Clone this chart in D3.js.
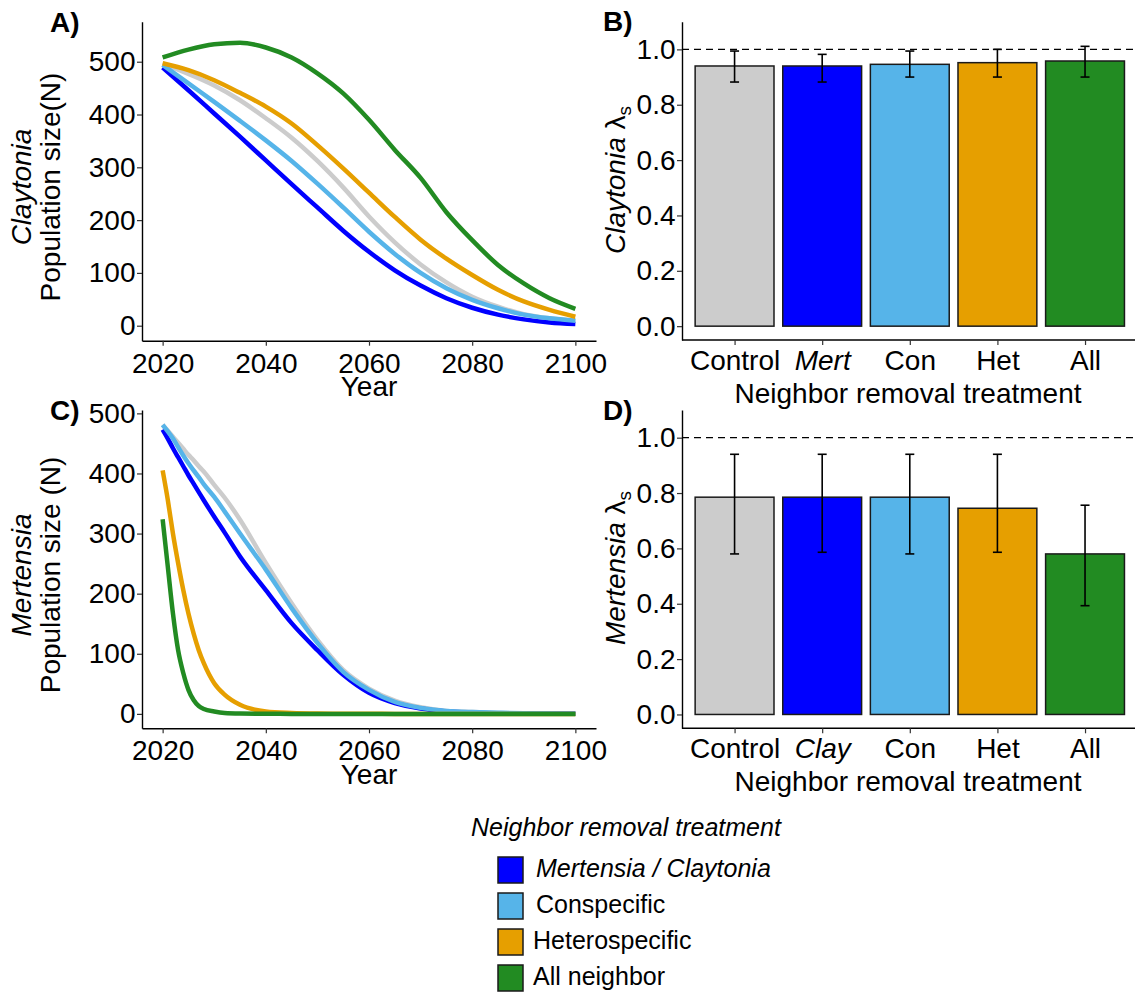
<!DOCTYPE html>
<html>
<head>
<meta charset="utf-8">
<script src="https://cdn.jsdelivr.net/npm/d3@7"></script>
<style>
  body { margin: 0; background: #fff; }
  svg text { font-family: "Liberation Sans", Arial, Helvetica, sans-serif; fill: #000; }
</style>
</head>
<body>
<svg id="fig" width="1135" height="994"></svg>
<script>
// ---- Treatments and colours ----
const treatments = ["Control", "Mert", "Con", "Het", "All"];
const treatmentColors = ["#CCCCCC", "#0000FF", "#56B4E9", "#E69F00", "#228B22"];

// ---- Claytonia projected population size (N) ----
const claytoniaYears = [2020, 2025, 2030, 2035, 2040, 2045, 2050, 2055, 2060, 2065, 2070, 2075, 2080, 2085, 2090, 2095, 2100];
const claytoniaControl = [497, 477, 455, 427, 393, 356, 312, 262, 207, 158, 116, 82, 55, 36, 22, 14, 9.5];
const claytoniaMert    = [489, 446, 402, 358, 313, 268, 224, 180, 140, 105, 76, 52, 34, 21, 12, 6, 3];
const claytoniaCon     = [494, 459, 424, 388, 351, 312, 269, 224, 178, 136, 100, 71, 49, 33, 21, 14, 9.5];
const claytoniaHet     = [497, 484, 465, 441, 415, 383, 342, 298, 252, 206, 163, 127, 96, 68, 46, 30, 17];
const claytoniaAll     = [508, 523, 533, 536, 527, 508, 478, 440, 390, 333, 280, 215, 162, 115, 80, 52, 32];

// ---- Mertensia projected population size (N) ----
const mertensiaYears = [2020, 2021, 2022, 2023, 2024, 2025, 2026, 2027, 2028, 2030, 2032, 2035, 2040, 2045, 2050, 2055, 2060, 2065, 2070, 2075, 2080, 2085, 2090, 2095, 2100];
const mertensiaControl = [481, 471, 461, 451, 441, 431, 422, 412, 403, 381, 360, 323, 251, 184, 123, 73, 42, 22, 11, 5, 3, 1.5, 0.8, 0.4, 0.2];
const mertensiaClay    = [473, 458, 442, 427, 412, 397, 383, 369, 355, 328, 302, 262, 206, 151, 106, 65, 35, 18, 9, 4, 2, 1, 0.5, 0.3, 0.1];
const mertensiaCon     = [481, 470, 458, 444, 430, 417, 405, 394, 382, 361, 337, 300, 240, 176, 118, 70, 40, 20, 10, 5, 3, 2, 1, 0.5, 0.3];
const mertensiaHet     = [405, 356, 300, 251, 206, 167, 134, 106, 84, 51, 32, 15, 4, 1.5, 0.5, 0.2, 0.1, 0, 0, 0, 0, 0, 0, 0, 0];
const mertensiaAll     = [324, 245, 167, 106, 68, 40, 23, 13, 8, 4, 1.5, 0.5, 0.1, 0, 0, 0, 0, 0, 0, 0, 0, 0, 0, 0, 0];

// ---- Stochastic growth rates (lambda_s) with intervals ----
const claytoniaLambda = [0.940, 0.940, 0.946, 0.952, 0.958];
const claytoniaLower  = [0.882, 0.882, 0.900, 0.900, 0.900];
const claytoniaUpper  = [0.994, 0.982, 0.994, 1.000, 1.011];
const mertensiaLambda = [0.785, 0.785, 0.785, 0.745, 0.580];
const mertensiaLower  = [0.580, 0.586, 0.580, 0.586, 0.393];
const mertensiaUpper  = [0.940, 0.940, 0.940, 0.940, 0.756];

// ---- Axis ticks and labels ----
const yearTicks = [2020, 2040, 2060, 2080, 2100];
const popTicks = [0, 100, 200, 300, 400, 500];
const lambdaTicks = [0, 0.2, 0.4, 0.6, 0.8, 1.0];
const claytoniaBarLabels = ["Control", "Mert", "Con", "Het", "All"];
const mertensiaBarLabels = ["Control", "Clay", "Con", "Het", "All"];
const italicBarLabels = ["Mert", "Clay"];
const legendLabels = ["Mertensia / Claytonia", "Conspecific", "Heterospecific", "All neighbor"];
const legendColors = treatmentColors.slice(1);

const svg = d3.select("#fig");
svg.append("rect").attr("width", 1135).attr("height", 994).attr("fill", "#fff");

const FS = 28;

function styleAxis(g) {
  g.select(".domain").attr("stroke", "#000").attr("stroke-width", 1.4);
  g.selectAll(".tick line").attr("stroke", "#333").attr("stroke-width", 1.2);
  g.selectAll(".tick text").attr("font-size", FS).attr("fill", "#000")
    .attr("font-family", "'Liberation Sans', Arial, sans-serif");
}

// ---- Line panels (population trajectories) ----
function linePanel(opts) {
  const x = d3.scaleLinear().domain([2016, 2104]).range([opts.left, opts.right]);
  const y = d3.scaleLinear().domain(opts.yDomain).range([opts.bottom, opts.top]);
  const g = svg.append("g");

  const series = opts.series.map((vals, i) => ({
    color: treatmentColors[i],
    points: opts.years.map((yr, j) => [yr, vals[j]])
  }));
  const line = d3.line().x(d => x(d[0])).y(d => y(d[1])).curve(d3.curveMonotoneX);
  g.selectAll("path.traj").data(series).join("path")
    .attr("class", "traj")
    .attr("d", d => line(d.points))
    .attr("fill", "none")
    .attr("stroke", d => d.color)
    .attr("stroke-width", 4.5)
    .attr("stroke-linejoin", "round")
    .attr("stroke-linecap", "butt");

  const xa = g.append("g").attr("transform", `translate(0,${opts.bottom})`)
    .call(d3.axisBottom(x).tickValues(yearTicks).tickFormat(d3.format("d")).tickSize(5).tickPadding(7).tickSizeOuter(0));
  styleAxis(xa);
  const ya = g.append("g").attr("transform", `translate(${opts.left},0)`)
    .call(d3.axisLeft(y).tickValues(popTicks).tickSize(5).tickPadding(1.5).tickSizeOuter(0));
  styleAxis(ya);

  // x title
  g.append("text").attr("x", (opts.left + opts.right) / 2).attr("y", opts.bottom + 55.5)
    .attr("text-anchor", "middle").attr("font-size", FS).text("Year");

  // two-line y title
  g.append("text").attr("transform", `translate(31,${opts.titleY}) rotate(-90)`)
    .attr("text-anchor", "middle").attr("font-size", FS).attr("font-style", "italic").text(opts.species);
  g.append("text").attr("transform", `translate(60,${opts.titleY}) rotate(-90)`)
    .attr("text-anchor", "middle").attr("font-size", FS).text(opts.yTitle);

  // panel tag
  g.append("text").attr("x", 50).attr("y", opts.tagY).attr("font-size", FS)
    .attr("font-weight", "bold").text(opts.tag);
}

// ---- Bar panels (lambda_s) ----
function barPanel(opts) {
  const x = d3.scalePoint().domain(treatments).range([opts.left, opts.right]).padding(0.6);
  const step = x.step();
  const bw = step * 0.9;
  const y = d3.scaleLinear().domain([-0.05, 1.1]).range([opts.bottom, opts.top]);
  const g = svg.append("g");

  const rows = treatments.map((t, i) => ({
    t, value: opts.values[i], lo: opts.lower[i], hi: opts.upper[i], color: treatmentColors[i]
  }));

  g.selectAll("rect.bar").data(rows).join("rect")
    .attr("class", "bar")
    .attr("x", d => x(d.t) - bw / 2)
    .attr("width", bw)
    .attr("y", d => y(d.value))
    .attr("height", d => y(0) - y(d.value))
    .attr("fill", d => d.color)
    .attr("stroke", "#1a1a1a")
    .attr("stroke-width", 1.5);

  // reference line at lambda = 1
  g.append("line")
    .attr("x1", opts.left).attr("x2", 1135)
    .attr("y1", y(1)).attr("y2", y(1))
    .attr("stroke", "#000").attr("stroke-width", 1.3).attr("stroke-dasharray", "7,5");

  // error bars
  const cap = 4.5;
  const eb = g.selectAll("g.err").data(rows).join("g").attr("class", "err")
    .attr("stroke", "#000").attr("stroke-width", 1.6);
  eb.append("line").attr("x1", d => x(d.t)).attr("x2", d => x(d.t))
    .attr("y1", d => y(d.lo)).attr("y2", d => y(d.hi));
  eb.append("line").attr("x1", d => x(d.t) - cap).attr("x2", d => x(d.t) + cap)
    .attr("y1", d => y(d.lo)).attr("y2", d => y(d.lo));
  eb.append("line").attr("x1", d => x(d.t) - cap).attr("x2", d => x(d.t) + cap)
    .attr("y1", d => y(d.hi)).attr("y2", d => y(d.hi));

  const xa = g.append("g").attr("transform", `translate(0,${opts.bottom})`)
    .call(d3.axisBottom(x).tickSize(5).tickPadding(5).tickSizeOuter(0)
      .tickFormat((d, i) => opts.labels[i]));
  styleAxis(xa);
  xa.select(".domain").attr("d", `M${opts.left},0H1135`);
  xa.selectAll(".tick text").attr("font-style", (d, i) => italicBarLabels.includes(opts.labels[i]) ? "italic" : "normal");

  const ya = g.append("g").attr("transform", `translate(${opts.left},0)`)
    .call(d3.axisLeft(y).tickValues(lambdaTicks).tickFormat(d3.format(".1f")).tickSize(5).tickPadding(1.5).tickSizeOuter(0));
  styleAxis(ya);

  g.append("text").attr("x", 908).attr("y", opts.bottom + 63)
    .attr("text-anchor", "middle").attr("font-size", FS).text("Neighbor removal treatment");

  const yt = g.append("text").attr("transform", `translate(625,${opts.titleY}) rotate(-90)`)
    .attr("text-anchor", "middle").attr("font-size", FS);
  yt.append("tspan").attr("font-style", "italic").text(opts.species);
  yt.append("tspan").text(" \u03bb");
  yt.append("tspan").attr("font-size", 19).attr("dy", 6).text("s");

  g.append("text").attr("x", 603).attr("y", opts.tagY).attr("font-size", FS)
    .attr("font-weight", "bold").text(opts.tag);
}

linePanel({
  left: 142, right: 596, top: 21.7, bottom: 340.7, yDomain: [-28.4, 575.8],
  years: claytoniaYears,
  series: [claytoniaControl, claytoniaMert, claytoniaCon, claytoniaHet, claytoniaAll],
  species: "Claytonia", yTitle: "Population size(N)", titleY: 187, tag: "A)", tagY: 32
});
linePanel({
  left: 142, right: 596, top: 410, bottom: 728.3, yDomain: [-24, 505.6],
  years: mertensiaYears,
  series: [mertensiaControl, mertensiaClay, mertensiaCon, mertensiaHet, mertensiaAll],
  species: "Mertensia", yTitle: "Population size (N)", titleY: 575, tag: "C)", tagY: 420
});
barPanel({
  left: 682, right: 1137.6, top: 21.7, bottom: 340,
  values: claytoniaLambda, lower: claytoniaLower, upper: claytoniaUpper,
  labels: claytoniaBarLabels, species: "Claytonia", titleY: 180, tag: "B)", tagY: 31
});
barPanel({
  left: 682, right: 1137.6, top: 410, bottom: 728.3,
  values: mertensiaLambda, lower: mertensiaLower, upper: mertensiaUpper,
  labels: mertensiaBarLabels, species: "Mertensia", titleY: 568, tag: "D)", tagY: 420
});

// ---- Legend ----
const lg = svg.append("g");
lg.append("text").attr("x", 471).attr("y", 836).attr("font-size", 25)
  .attr("font-style", "italic").text("Neighbor removal treatment");
const items = lg.selectAll("g.item").data(legendLabels).join("g").attr("class", "item")
  .attr("transform", (d, i) => `translate(498,${857 + i * 36})`);
items.append("rect").attr("width", 25).attr("height", 26)
  .attr("fill", (d, i) => legendColors[i]).attr("stroke", "#1a1a1a").attr("stroke-width", 1.5);
items.append("text").attr("x", (d, i) => i < 2 ? 38 : 35).attr("y", 20)
  .attr("font-size", 25).attr("font-style", (d, i) => i === 0 ? "italic" : "normal").text(d => d);
</script>
</body>
</html>
